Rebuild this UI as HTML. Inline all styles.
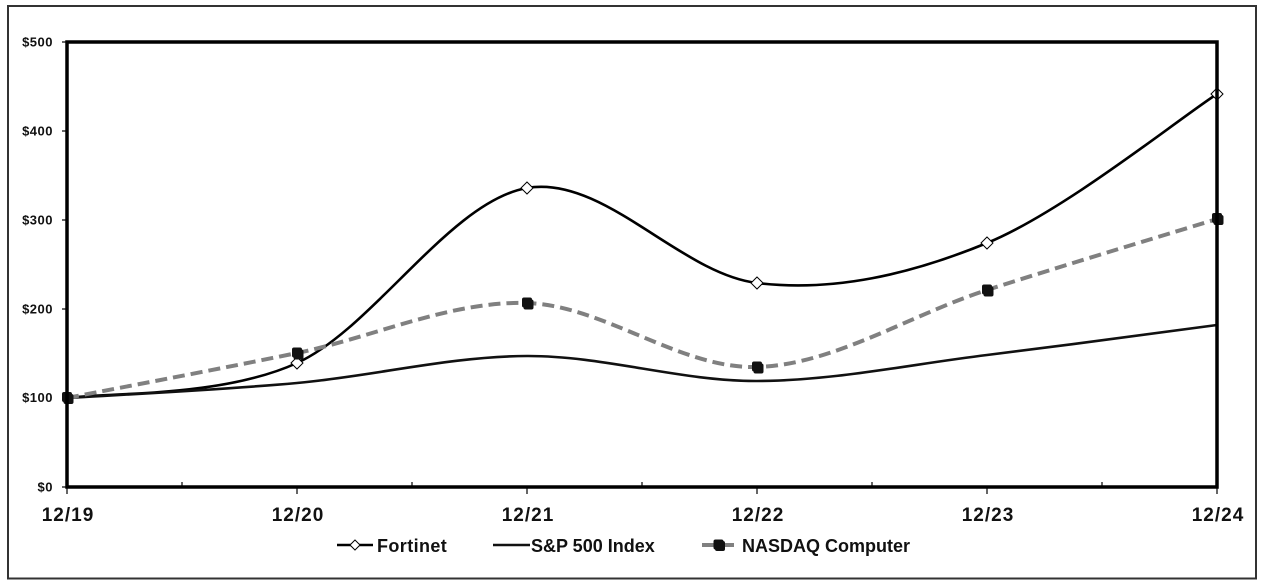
<!DOCTYPE html>
<html>
<head>
<meta charset="utf-8">
<style>
  html, body { margin: 0; padding: 0; background: #ffffff; }
  body { width: 1263px; height: 588px; overflow: hidden; }
  svg { display: block; }
  text { font-family: "Liberation Sans", Arial, sans-serif; font-weight: bold; fill: #111; }
</style>
</head>
<body>
<svg width="1263" height="588" viewBox="0 0 1263 588" xmlns="http://www.w3.org/2000/svg">
  <!-- outer frame -->
  <rect x="8" y="6" width="1248" height="572.5" fill="#fff" stroke="#333" stroke-width="2"/>

  <!-- y axis labels + ticks -->
  <g font-size="13" text-anchor="end" letter-spacing="0.5">
    <text x="53" y="46.5">$500</text>
    <text x="53" y="135.5">$400</text>
    <text x="53" y="224.5">$300</text>
    <text x="53" y="313.5">$200</text>
    <text x="53" y="402">$100</text>
    <text x="53" y="491.5">$0</text>
  </g>
  <g stroke="#000" stroke-width="1.2">
    <line x1="62" y1="42" x2="67" y2="42"/>
    <line x1="62" y1="131" x2="67" y2="131"/>
    <line x1="62" y1="220" x2="67" y2="220"/>
    <line x1="62" y1="309" x2="67" y2="309"/>
    <line x1="62" y1="398" x2="67" y2="398"/>
    <line x1="62" y1="487" x2="67" y2="487"/>
    <!-- major x ticks (below) -->
    <line x1="67" y1="487" x2="67" y2="494"/>
    <line x1="297" y1="487" x2="297" y2="494"/>
    <line x1="527" y1="487" x2="527" y2="494"/>
    <line x1="757" y1="487" x2="757" y2="494"/>
    <line x1="987" y1="487" x2="987" y2="494"/>
    <line x1="1217" y1="487" x2="1217" y2="494"/>
    <!-- minor x ticks (above) -->
    <line x1="182" y1="482" x2="182" y2="487"/>
    <line x1="412" y1="482" x2="412" y2="487"/>
    <line x1="642" y1="482" x2="642" y2="487"/>
    <line x1="872" y1="482" x2="872" y2="487"/>
    <line x1="1102" y1="482" x2="1102" y2="487"/>
  </g>

  <!-- x labels -->
  <g font-size="19" text-anchor="middle" letter-spacing="1">
    <text x="68" y="521">12/19</text>
    <text x="298" y="521">12/20</text>
    <text x="528" y="521">12/21</text>
    <text x="758" y="521">12/22</text>
    <text x="988" y="521">12/23</text>
    <text x="1218" y="521">12/24</text>
  </g>

  <!-- Fortinet -->
  <path d="M67,398 C105.3,392.2 220.3,398 297,363 C373.7,328 450.3,201.3 527,188 C603.7,174.7 680.3,273.8 757,283 C833.7,292.2 910.3,274.5 987,243 C1063.7,211.5 1178.7,118.8 1217,94"
        fill="none" stroke="#000" stroke-width="2.6"/>
  <!-- S&P 500 -->
  <path d="M67,398 C105.3,395.5 220.3,390 297,383 C373.7,376 450.3,356.3 527,356 C603.7,355.7 680.3,381.2 757,381 C833.7,380.8 910.3,364.3 987,355 C1063.7,345.7 1178.7,330 1217,325"
        fill="none" stroke="#111" stroke-width="2.6"/>
  <!-- Fortinet markers -->
  <g fill="#fff" stroke="#000" stroke-width="1">
    <path d="M297,357 L303,363 L297,369 L291,363 Z"/>
    <path d="M527,182 L533,188 L527,194 L521,188 Z"/>
    <path d="M757,277 L763,283 L757,289 L751,283 Z"/>
    <path d="M987,237 L993,243 L987,249 L981,243 Z"/>
    <path d="M1217,88 L1223,94 L1217,100 L1211,94 Z"/>
  </g>
  <!-- NASDAQ -->
  <path d="M67,398 C105.3,390.5 220.3,368.8 297,353 C373.7,337.2 450.3,300.7 527,303 C603.7,305.3 680.3,369.2 757,367 C833.7,364.8 910.3,314.7 987,290 C1063.7,265.3 1178.7,230.8 1217,219"
        fill="none" stroke="#808080" stroke-width="4" stroke-dasharray="12 6"/>
  <g fill="#111">
    <rect x="62" y="392" width="10" height="10" rx="2"/><rect x="63.5" y="394" width="10" height="10" rx="2"/>
    <rect x="292" y="347.5" width="10" height="10" rx="2"/><rect x="293.5" y="349.5" width="10" height="10" rx="2"/>
    <rect x="522" y="297.5" width="10" height="10" rx="2"/><rect x="523.5" y="299.5" width="10" height="10" rx="2"/>
    <rect x="752" y="361.5" width="10" height="10" rx="2"/><rect x="753.5" y="363.5" width="10" height="10" rx="2"/>
    <rect x="982" y="284.5" width="10" height="10" rx="2"/><rect x="983.5" y="286.5" width="10" height="10" rx="2"/>
    <rect x="1212" y="213" width="10" height="10" rx="2"/><rect x="1213.5" y="215" width="10" height="10" rx="2"/>
  </g>

  <!-- plot area border -->
  <rect x="67" y="42" width="1150" height="445" fill="none" stroke="#000" stroke-width="3.5"/>

  <!-- legend -->
  <line x1="337" y1="545" x2="373" y2="545" stroke="#000" stroke-width="2.6"/>
  <path d="M355,540 L360,545 L355,550 L350,545 Z" fill="#fff" stroke="#000" stroke-width="1"/>
  <text x="377" y="552" font-size="18" letter-spacing="0.4">Fortinet</text>

  <line x1="493" y1="545" x2="530" y2="545" stroke="#111" stroke-width="2.6"/>
  <text x="531" y="552" font-size="18">S&amp;P 500 Index</text>

  <line x1="702" y1="545" x2="734" y2="545" stroke="#808080" stroke-width="4"/>
  <rect x="713.5" y="539.5" width="10" height="10" rx="2" fill="#111"/>
  <rect x="715" y="541" width="10" height="10" rx="2" fill="#111"/>
  <text x="742" y="552" font-size="18">NASDAQ Computer</text>
</svg>
</body>
</html>
